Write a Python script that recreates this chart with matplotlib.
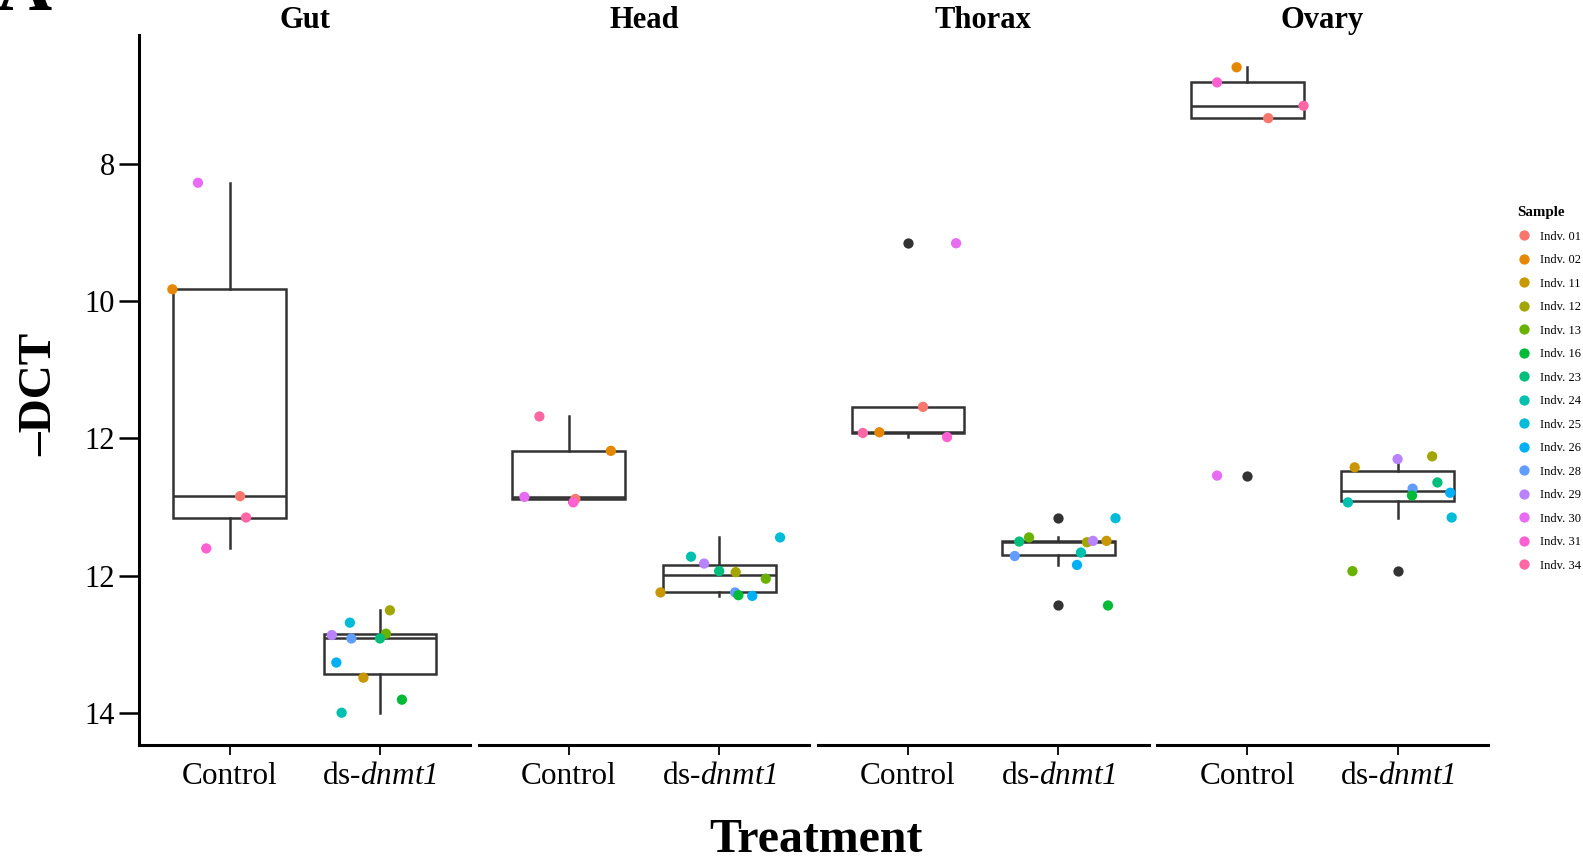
import matplotlib
matplotlib.use("Agg")
import matplotlib.pyplot as plt
from matplotlib.lines import Line2D
import numpy as np

plt.rcParams['font.family'] = ['Liberation Serif', 'DejaVu Serif']
plt.rcParams['mathtext.fontset'] = 'custom'
plt.rcParams['mathtext.rm'] = 'Liberation Serif'
plt.rcParams['mathtext.sf'] = 'Liberation Serif:italic'

# ---------------- data ----------------
tissues = ["Gut", "Head", "Thorax", "Ovary"]
treatments = ["Control", r"ds-$\mathsf{dnmt1}$"]

sample_names = ["Indv. 01", "Indv. 02", "Indv. 11", "Indv. 12", "Indv. 13", "Indv. 16",
                "Indv. 23", "Indv. 24", "Indv. 25", "Indv. 26", "Indv. 28", "Indv. 29",
                "Indv. 30", "Indv. 31", "Indv. 34"]
sample_colors = ["#F8766D", "#E58700", "#C99800", "#A3A500", "#6BB100", "#00BA38",
                 "#00BF7D", "#00C0AF", "#00BCD8", "#00B0F6", "#619CFF", "#B983FF",
                 "#E76BF3", "#FD61D1", "#FF67A4"]

y_tick_pos = [8, 10, 12, 14, 16]
y_tick_labels = ["8", "10", "12", "12", "14"]

# Gut
gut_ctrl_samples = ["Indv. 30", "Indv. 02", "Indv. 01", "Indv. 34", "Indv. 31"]
gut_ctrl_values = [8.28, 9.83, 12.84, 13.15, 13.60]
gut_ctrl_jitter = [-0.21, -0.38, 0.07, 0.11, -0.155]
gut_ds_samples = ["Indv. 12", "Indv. 25", "Indv. 29", "Indv. 13", "Indv. 28",
                  "Indv. 23", "Indv. 26", "Indv. 11", "Indv. 16", "Indv. 24"]
gut_ds_values = [14.50, 14.68, 14.86, 14.84, 14.91, 14.91, 15.26, 15.48, 15.80, 15.99]
gut_ds_jitter = [0.066, -0.20, -0.32, 0.04, -0.19, 0.0, -0.29, -0.11, 0.146, -0.255]

# Head
head_ctrl_samples = ["Indv. 34", "Indv. 02", "Indv. 30", "Indv. 01", "Indv. 31"]
head_ctrl_values = [11.68, 12.18, 12.85, 12.88, 12.93]
head_ctrl_jitter = [-0.195, 0.28, -0.295, 0.044, 0.03]
head_ds_samples = ["Indv. 25", "Indv. 24", "Indv. 29", "Indv. 23", "Indv. 12",
                   "Indv. 13", "Indv. 11", "Indv. 28", "Indv. 16", "Indv. 26"]
head_ds_values = [13.44, 13.72, 13.82, 13.93, 13.945, 14.04, 14.24, 14.24, 14.28, 14.29]
head_ds_jitter = [0.405, -0.187, -0.10, 0.0, 0.11, 0.31, -0.39, 0.106, 0.128, 0.22]

# Thorax
thorax_ctrl_samples = ["Indv. 30", "Indv. 01", "Indv. 34", "Indv. 02", "Indv. 31"]
thorax_ctrl_values = [9.16, 11.54, 11.92, 11.91, 11.98]
thorax_ctrl_jitter = [0.32, 0.10, -0.30, -0.19, 0.26]
thorax_ds_samples = ["Indv. 25", "Indv. 13", "Indv. 23", "Indv. 12", "Indv. 29",
                     "Indv. 11", "Indv. 24", "Indv. 28", "Indv. 26", "Indv. 16"]
thorax_ds_values = [13.16, 13.44, 13.50, 13.51, 13.49, 13.49, 13.66, 13.71, 13.84, 14.43]
thorax_ds_jitter = [0.38, -0.195, -0.26, 0.19, 0.23, 0.32, 0.15, -0.29, 0.124, 0.33]

# Ovary
ovary_ctrl_samples = ["Indv. 02", "Indv. 31", "Indv. 34", "Indv. 01", "Indv. 30"]
ovary_ctrl_values = [6.60, 6.82, 7.16, 7.34, 12.54]
ovary_ctrl_jitter = [-0.07, -0.20, 0.375, 0.14, -0.20]
ovary_ds_samples = ["Indv. 12", "Indv. 29", "Indv. 11", "Indv. 23", "Indv. 28",
                    "Indv. 26", "Indv. 16", "Indv. 24", "Indv. 25", "Indv. 13"]
ovary_ds_values = [12.26, 12.30, 12.42, 12.64, 12.73, 12.79, 12.83, 12.93, 13.15, 13.93]
ovary_ds_jitter = [0.23, 0.0, -0.285, 0.265, 0.10, 0.35, 0.096, -0.33, 0.36, -0.30]

panels = [
    [(gut_ctrl_samples, gut_ctrl_values, gut_ctrl_jitter),
     (gut_ds_samples, gut_ds_values, gut_ds_jitter)],
    [(head_ctrl_samples, head_ctrl_values, head_ctrl_jitter),
     (head_ds_samples, head_ds_values, head_ds_jitter)],
    [(thorax_ctrl_samples, thorax_ctrl_values, thorax_ctrl_jitter),
     (thorax_ds_samples, thorax_ds_values, thorax_ds_jitter)],
    [(ovary_ctrl_samples, ovary_ctrl_values, ovary_ctrl_jitter),
     (ovary_ds_samples, ovary_ds_values, ovary_ds_jitter)],
]

color_of = dict(zip(sample_names, sample_colors))

# ---------------- layout ----------------
W, H = 1583, 867
fig = plt.figure(figsize=(W / 100, H / 100), dpi=100)

all_vals = np.concatenate([np.array(v) for p in panels for (_, v, _) in p])
lo, hi = all_vals.min(), all_vals.max()
pad = 0.05 * (hi - lo)

line_c = "#333333"
box_lw = 1.8
pt_size = 7.4

axes = []
for i, (name, panel) in enumerate(zip(tissues, panels)):
    left = 139.3 + i * 339.2
    ax = fig.add_axes([left / W, (H - 745) / H, 330.9 / W, 710 / H])
    axes.append(ax)
    data = [np.array(v) for (_, v, _) in panel]
    ax.boxplot(data, positions=[1, 2], widths=0.75, patch_artist=True,
               showcaps=False,
               boxprops=dict(facecolor="white", edgecolor=line_c, linewidth=box_lw),
               medianprops=dict(color=line_c, linewidth=box_lw),
               whiskerprops=dict(color=line_c, linewidth=box_lw),
               flierprops=dict(marker="o", markerfacecolor=line_c, markeredgecolor="none",
                               markersize=pt_size),
               zorder=2)
    for k, (samps, vals, jit) in enumerate(panel):
        xs = np.array(jit) + (k + 1)
        cols = [color_of[s] for s in samps]
        ax.scatter(xs, vals, c=cols, s=pt_size ** 2, edgecolors="none", zorder=3)
    ax.set_xlim(0.4, 2.6)
    ax.set_ylim(hi + pad, lo - pad)
    ax.set_xticks([1, 2])
    ax.set_xticklabels(treatments, fontsize=22.5)
    ax.tick_params(axis="x", length=7.2, width=1.3, pad=5, colors="black")
    ax.set_title(name, fontsize=22, fontweight="bold", pad=4.5)
    for s in ["top", "right"]:
        ax.spines[s].set_visible(False)
    ax.spines["bottom"].set_linewidth(2.2)
    if i == 0:
        ax.spines["left"].set_linewidth(2.2)
        ax.set_yticks(y_tick_pos)
        ax.set_yticklabels(y_tick_labels, fontsize=22)
        ax.tick_params(axis="y", length=14.4, width=1.8, pad=3, colors="black")
    else:
        ax.spines["left"].set_visible(False)
        ax.set_yticks([])
    ax.set_facecolor("white")

fig.text(40 / W, 1 - 394 / H, "–DCT", rotation=90, fontsize=34, fontweight="bold",
         ha="center", va="center")
fig.text(816 / W, 1 - 840 / H, "Treatment", fontsize=34.5, fontweight="bold",
         ha="center", va="center")
fig.text(-4 / W, 1 - 10 / H, "A", fontsize=55, fontweight="bold", ha="left", va="baseline")

handles = [Line2D([], [], marker="o", linestyle="none", markersize=pt_size,
                  markerfacecolor=c, markeredgecolor="none") for c in sample_colors]
leg = fig.legend(handles, sample_names, title="Sample", loc="upper left",
                 bbox_to_anchor=(1506 / W, 1 - 195 / H), bbox_transform=fig.transFigure,
                 frameon=False, fontsize=9, title_fontproperties={"weight": "bold", "size": 10.8},
                 labelspacing=0.92, handlelength=1.0, handletextpad=0.85, alignment="left")

fig.savefig("out.png", dpi=100, facecolor="white")
